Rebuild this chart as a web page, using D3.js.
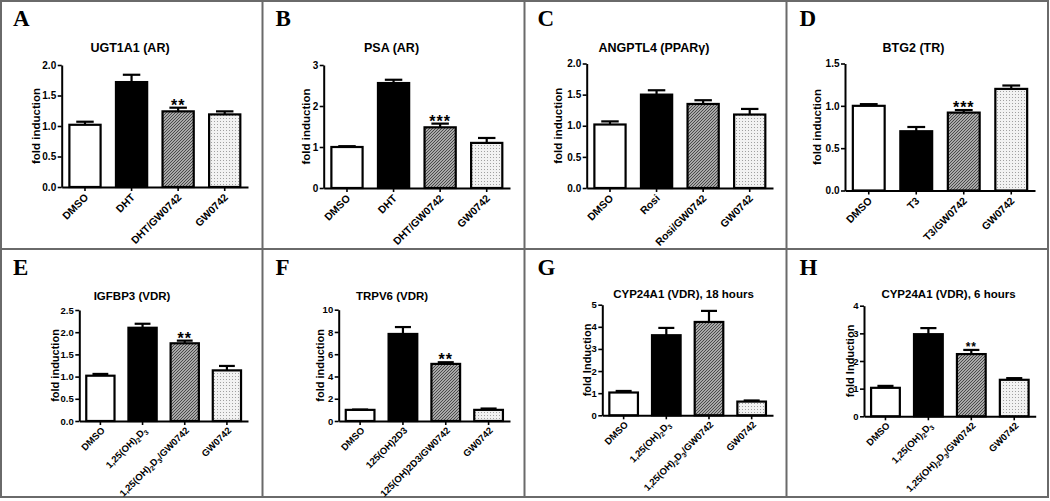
<!DOCTYPE html>
<html><head><meta charset="utf-8">
<script src="https://cdn.jsdelivr.net/npm/d3@7"></script>
<style>
body{margin:0;background:#fff}
svg{display:block}
text{font-family:"Liberation Sans",Arial,sans-serif;font-weight:bold;fill:#000}
.letter{font-family:"Liberation Serif","Times New Roman",serif;font-weight:bold}
</style>
</head><body>
<svg id="c" width="1050" height="501"></svg>
<script>
// ---------------- data ----------------
const letters = ["A","B","C","D","E","F","G","H"];
const titles = ["UGT1A1 (AR)","PSA (AR)","ANGPTL4 (PPARγ)","BTG2 (TR)","IGFBP3 (VDR)","TRPV6 (VDR)","CYP24A1 (VDR), 18 hours","CYP24A1 (VDR), 6 hours"];
const yLabels = ["fold induction","fold induction","fold induction","fold induction","fold induction","fold induction","fold Induction","fold Induction"];

const catsA = ["DMSO","DHT","DHT/GW0742","GW0742"];
const catsB = ["DMSO","DHT","DHT/GW0742","GW0742"];
const catsC = ["DMSO","Rosi","Rosi/GW0742","GW0742"];
const catsD = ["DMSO","T3","T3/GW0742","GW0742"];
const catsE = ["DMSO","1,25(OH)_2D_3","1,25(OH)_2D_3/GW0742","GW0742"];
const catsF = ["DMSO","125(OH)2D3","125(OH)2D3/GW0742","GW0742"];
const catsG = ["DMSO","1,25(OH)_2D_3","1,25(OH)_2D_3/GW0742","GW0742"];
const catsH = ["DMSO","1,25(OH)_2D_3","1,25(OH)_2D_3/GW0742","GW0742"];

const valuesA = [1.02, 1.72, 1.24, 1.19];
const valuesB = [1.00, 2.56, 1.48, 1.10];
const valuesC = [1.02, 1.50, 1.35, 1.18];
const valuesD = [1.00, 0.70, 0.92, 1.20];
const valuesE = [1.02, 2.10, 1.75, 1.14];
const valuesF = [1.00, 7.82, 5.13, 1.00];
const valuesG = [1.03, 3.62, 4.22, 0.62];
const valuesH = [1.03, 2.97, 2.25, 1.32];

const errorsA = [0.05, 0.12, 0.06, 0.05];
const errorsB = [0.02, 0.08, 0.09, 0.12];
const errorsC = [0.05, 0.07, 0.06, 0.09];
const errorsD = [0.02, 0.05, 0.03, 0.04];
const errorsE = [0.04, 0.09, 0.06, 0.10];
const errorsF = [0.03, 0.62, 0.15, 0.12];
const errorsG = [0.07, 0.33, 0.50, 0.05];
const errorsH = [0.07, 0.22, 0.15, 0.06];

const starsA = ["","","**",""];
const starsB = ["","","***",""];
const starsC = ["","","",""];
const starsD = ["","","***",""];
const starsE = ["","","**",""];
const starsF = ["","","**",""];
const starsG = ["","","",""];
const starsH = ["","","**",""];

const ticksA = [0,0.5,1,1.5,2];
const ticksB = [0,1,2,3];
const ticksC = [0,0.5,1,1.5,2];
const ticksD = [0,0.5,1,1.5];
const ticksE = [0,0.5,1,1.5,2,2.5];
const ticksF = [0,2,4,6,8,10];
const ticksG = [0,1,2,3,4,5];
const ticksH = [0,1,2,3,4];
const tickFormats = [".1f","d",".1f",".1f",".1f","d","d","d"];

const panelData = [
  {cats:catsA, values:valuesA, errors:errorsA, stars:starsA, ticks:ticksA},
  {cats:catsB, values:valuesB, errors:errorsB, stars:starsB, ticks:ticksB},
  {cats:catsC, values:valuesC, errors:errorsC, stars:starsC, ticks:ticksC},
  {cats:catsD, values:valuesD, errors:errorsD, stars:starsD, ticks:ticksD},
  {cats:catsE, values:valuesE, errors:errorsE, stars:starsE, ticks:ticksE},
  {cats:catsF, values:valuesF, errors:errorsF, stars:starsF, ticks:ticksF},
  {cats:catsG, values:valuesG, errors:errorsG, stars:starsG, ticks:ticksG},
  {cats:catsH, values:valuesH, errors:errorsH, stars:starsH, ticks:ticksH}
];

// ---------------- layout ----------------
const layout = [
  {px:0,     py:0,   x0:61.7,  x1:248,   yb:187,   yt:65,    tx:130,   ty:52,  lx:36,    top:true},
  {px:262.5, py:0,   x0:323.7, x1:510,   yb:188,   yt:65,    tx:391.5, ty:52,  lx:305.5, top:true},
  {px:524.5, py:0,   x0:586.7, x1:773,   yb:188,   yt:63.5,  tx:654,   ty:52,  lx:558,   top:true},
  {px:786.5, py:0,   x0:845,   x1:1035,  yb:190.5, yt:63.5,  tx:913.5, ty:52,  lx:817,   top:true},
  {px:0,     py:249, x0:79.3,  x1:248,   yb:421,   yt:310,   tx:132,   ty:300, lx:55,    top:false},
  {px:262.5, py:249, x0:338.7, x1:510,   yb:421,   yt:309.7, tx:392,   ty:300, lx:320.5, top:false},
  {px:524.5, py:249, x0:602.3, x1:773,   yb:415.3, yt:304.7, tx:683.5, ty:298, lx:587,   top:false},
  {px:786.5, py:249, x0:864,   x1:1035.7,yb:416.3, yt:305.7, tx:948.5, ty:298, lx:850,   top:false}
];

const svg = d3.select("#c");
const defs = svg.append("defs");
const hatch = defs.append("pattern").attr("id","hatch").attr("patternUnits","userSpaceOnUse").attr("width",3).attr("height",3);
hatch.append("rect").attr("width",3).attr("height",3).attr("fill","#a8a8a8");
hatch.append("path").attr("d","M-1,1 L1,-1 M0,3 L3,0 M2,4 L4,2").attr("stroke","#404040").attr("stroke-width",0.9);
const dots = defs.append("pattern").attr("id","dots").attr("patternUnits","userSpaceOnUse").attr("width",3).attr("height",3);
dots.append("rect").attr("width",3).attr("height",3).attr("fill","#f2f2f2");
dots.append("rect").attr("x",1).attr("y",1).attr("width",1).attr("height",1).attr("fill","#a0a0a0");
const fills = ["#ffffff","#000000","url(#hatch)","url(#dots)"];

// frame
svg.append("rect").attr("x",1).attr("y",1).attr("width",1047).attr("height",496)
  .attr("fill","none").attr("stroke","#6a6a6a").attr("stroke-width",2);
[262.5,524.5,786.5].forEach(x=>svg.append("line").attr("x1",x).attr("x2",x).attr("y1",1).attr("y2",497).attr("stroke","#6a6a6a").attr("stroke-width",2));
svg.append("line").attr("x1",1).attr("x2",1048).attr("y1",249).attr("y2",249).attr("stroke","#6a6a6a").attr("stroke-width",2);

function addLabel(sel, s, fs){
  const parts = [];
  let buf = "";
  for (let i=0;i<s.length;i++){
    if (s[i]==="_" && i+1<s.length){ if(buf) parts.push({t:buf}); buf=""; parts.push({t:s[i+1],sub:true}); i++; }
    else buf += s[i];
  }
  if (buf) parts.push({t:buf});
  let shifted = false;
  parts.forEach(p=>{
    const ts = sel.append("tspan").text(p.t);
    if (p.sub){ ts.attr("font-size",fs*0.72).attr("dy", shifted?0:fs*0.25); shifted = true; }
    else { ts.attr("font-size",fs).attr("dy", shifted? -fs*0.25:0); shifted = false; }
  });
}

panelData.forEach((d,i)=>{
  const L = layout[i];
  const g = svg.append("g");
  const maxT = d3.max(d.ticks);
  const x = d3.scaleBand().domain(d.cats).range([L.x0,L.x1]).paddingInner(0.33).paddingOuter(0.165);
  const y = d3.scaleLinear().domain([0,maxT]).range([L.yb,L.yt]);
  const tickFs = L.top ? 10 : 9.5;

  g.append("text").attr("class","letter").attr("x",L.px+13).attr("y",L.py+26)
    .attr("font-size",23).text(letters[i]);
  g.append("text").attr("x",L.tx).attr("y",L.ty).attr("text-anchor","middle")
    .attr("font-size",L.top?12.5:11.5).text(titles[i]);
  g.append("text").attr("transform",`translate(${L.lx},${(L.yb+L.yt)/2}) rotate(-90)`)
    .attr("text-anchor","middle").attr("dy","0.35em").attr("font-size",L.top?11.5:11).text(yLabels[i]);

  const bw = x.bandwidth();
  g.selectAll("rect.bar").data(d.values).enter().append("rect").attr("class","bar")
    .attr("x",(v,j)=>x(d.cats[j])).attr("y",v=>y(v))
    .attr("width",bw).attr("height",v=>L.yb-y(v))
    .attr("fill",(v,j)=>fills[j]).attr("stroke","#000").attr("stroke-width",2.2);
  d.values.forEach((v,j)=>{
    const cx = x(d.cats[j]) + bw/2;
    const top = y(v + d.errors[j]);
    g.append("line").attr("x1",cx).attr("x2",cx).attr("y1",y(v)).attr("y2",top).attr("stroke","#000").attr("stroke-width",2.2);
    g.append("line").attr("x1",cx-bw*0.28).attr("x2",cx+bw*0.28).attr("y1",top).attr("y2",top).attr("stroke","#000").attr("stroke-width",2.2);
    if (d.stars[j]){
      g.append("text").attr("x",cx).attr("y",top + (i===7?1:3)).attr("text-anchor","middle")
        .attr("font-size",i===7?12:16).attr("letter-spacing",1).text(d.stars[j]);
    }
  });

  const ya = g.append("g").attr("transform",`translate(${L.x0},0)`)
    .call(d3.axisLeft(y).tickValues(d.ticks).tickFormat(d3.format(tickFormats[i])).tickSize(4).tickSizeOuter(0).tickPadding(1.5));
  ya.select(".domain").attr("stroke","#000").attr("stroke-width",2);
  ya.selectAll(".tick line").attr("stroke","#000").attr("stroke-width",1.6);
  ya.selectAll(".tick text").attr("font-size",tickFs).attr("font-family",null).style("font-family","'Liberation Sans',Arial,sans-serif").style("font-weight","bold").attr("fill","#000");

  const xa = g.append("g").attr("transform",`translate(0,${L.yb})`)
    .call(d3.axisBottom(x).tickSize(4).tickSizeOuter(0).tickFormat(""));
  xa.select(".domain").attr("stroke","#000").attr("stroke-width",2);
  xa.selectAll(".tick line").attr("stroke","#000").attr("stroke-width",1.6);

  const lfs = L.top ? 10.5 : 9.5;
  d.cats.forEach(c=>{
    const cx = x(c) + bw/2;
    const t = g.append("text").attr("text-anchor","end")
      .attr("transform",`translate(${cx + (L.top?4:5)},${L.yb + (L.top?11:10)}) rotate(-45)`)
      .attr("font-size",lfs);
    addLabel(t, c, lfs);
  });
});
</script>
</body></html>
